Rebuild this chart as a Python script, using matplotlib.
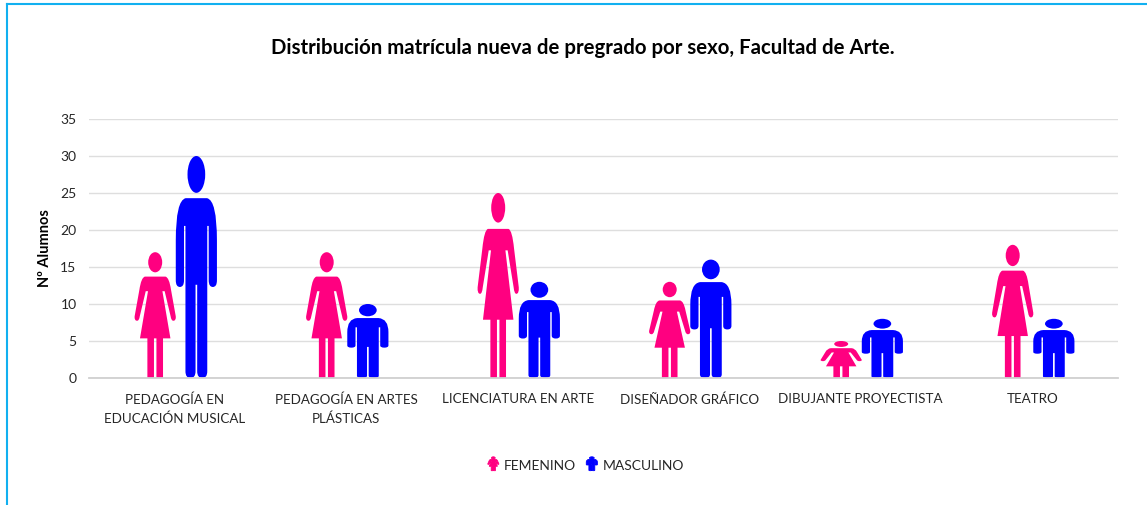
import numpy as np
import matplotlib
matplotlib.use('Agg')
import matplotlib.pyplot as plt
from matplotlib.path import Path
from matplotlib.patches import PathPatch
from matplotlib.lines import Line2D
from matplotlib.legend_handler import HandlerBase
from matplotlib.transforms import Affine2D

categories = ['PEDAGOGÍA EN\nEDUCACIÓN MUSICAL', 'PEDAGOGÍA EN ARTES\nPLÁSTICAS',
              'LICENCIATURA EN ARTE', 'DISEÑADOR GRÁFICO', 'DIBUJANTE PROYECTISTA', 'TEATRO']
femenino = [17, 17, 25, 13, 5, 18]
masculino = [30, 10, 13, 16, 8, 8]
yticks = [0, 5, 10, 15, 20, 25, 30, 35]

PINK = '#ff0080'
BLUE = '#0000ff'
TEXT = '#262626'

plt.rcParams['font.family'] = ['Lato', 'DejaVu Sans']


def head(cx, cy, rx, ry):
    # ellipse in the unit box of the icon
    circle = Path.unit_circle()
    return Path(circle.vertices * [rx, ry] + [cx, cy], circle.codes)


def outline(side):
    # side: left half from top centre to crotch; (x, y, 'c') starts a quadratic curve
    verts, codes = [], []
    curve_end = False
    for i, p in enumerate(side):
        verts.append(p[:2])
        if i == 0:
            codes.append(Path.MOVETO)
        elif len(p) == 3 or curve_end:
            codes.append(Path.CURVE3)
        else:
            codes.append(Path.LINETO)
        curve_end = len(p) == 3
    n = len(verts)
    # right half is the same points mirrored and walked backwards
    for i in range(1, n):
        verts.append((1 - verts[n - 1 - i][0], verts[n - 1 - i][1]))
        codes.append(codes[n - i])
    verts.append(verts[0])
    codes.append(Path.CLOSEPOLY)
    return Path(verts, codes)


male_side = [
    (0.5, 0.81), (0.24, 0.81), (0.0, 0.80, 'c'), (0.0, 0.62), (0.0, 0.44),
    (0.0, 0.41, 'c'), (0.10, 0.41), (0.20, 0.41, 'c'), (0.20, 0.44),
    (0.20, 0.685), (0.235, 0.685), (0.235, 0.03), (0.235, 0.0, 'c'), (0.355, 0.0),
    (0.48, 0.0, 'c'), (0.48, 0.03), (0.48, 0.42), (0.5, 0.42),
]
female_side = [
    (0.5, 0.806), (0.25, 0.806), (0.16, 0.80, 'c'), (0.115, 0.70), (0.0, 0.49),
    (-0.01, 0.455, 'c'), (0.06, 0.455), (0.11, 0.455, 'c'), (0.125, 0.49),
    (0.27, 0.69), (0.325, 0.69), (0.13, 0.315), (0.31, 0.315), (0.31, 0.0),
    (0.47, 0.0), (0.47, 0.315), (0.5, 0.315),
]

male_icon = Path.make_compound_path(head(0.5, 0.917, 0.215, 0.083), outline(male_side))
female_icon = Path.make_compound_path(head(0.5, 0.92, 0.17, 0.08), outline(female_side))

fig = plt.figure(figsize=(11.47, 5.05), dpi=100)
ax = fig.add_axes([89 / 1147, 127 / 505, 1029 / 1147, 259 / 505])

x = np.arange(len(categories))
width = 0.24
shift = 0.006
for xi, f, m in zip(x, femenino, masculino):
    t = Affine2D().scale(width, f).translate(xi - 0.12 - width / 2 + shift, 0) + ax.transData
    ax.add_patch(PathPatch(female_icon, transform=t, fc=PINK, ec='none'))
    t = Affine2D().scale(width, m).translate(xi + 0.12 - width / 2 + shift, 0) + ax.transData
    ax.add_patch(PathPatch(male_icon, transform=t, fc=BLUE, ec='none'))

ax.set_xlim(-0.5, 5.5)
ax.set_ylim(0, 35)
ax.set_yticks(yticks)
ax.set_xticks(x, categories)
ax.grid(axis='y', color='#dedede', lw=1)
ax.set_axisbelow(True)
for s in ['top', 'right', 'left']:
    ax.spines[s].set_visible(False)
ax.spines['bottom'].set_color('#d0d0d0')
ax.spines['bottom'].set_linewidth(1.3)
ax.tick_params(axis='both', length=0, labelcolor=TEXT)
ax.tick_params(axis='x', pad=11, labelsize=9.65)
ax.tick_params(axis='y', pad=9, labelsize=10)
for lab in ax.get_xticklabels():
    lab.set_linespacing(1.6)

fig.text(45 / 1147, 1 - 248 / 505, 'Nº Alumnos', rotation=90, ha='center', va='center',
         fontsize=10.5, fontweight='bold', color='black')
fig.text(583 / 1147, 1 - 48 / 505, 'Distribución matrícula nueva de pregrado por sexo, Facultad de Arte.',
         ha='center', va='center', fontsize=14.65, fontweight='bold', color='black')


class IconHandler(HandlerBase):
    def __init__(self, icon):
        super().__init__()
        self.icon = icon

    def create_artists(self, legend, orig, xd, yd, w, h, fontsize, trans):
        t = Affine2D().scale(8, 10).translate(w - 8 - xd, -yd - 0.5) + trans
        return [PathPatch(self.icon, transform=t, fc=orig.get_color(), ec=orig.get_color(), lw=0.6)]


h1 = Line2D([], [], color=PINK)
h2 = Line2D([], [], color=BLUE)
fig.legend([h1, h2], ['FEMENINO', 'MASCULINO'], loc='center', bbox_to_anchor=(585 / 1147, 1 - 466 / 505),
           ncol=2, frameon=False, fontsize=10, labelcolor=TEXT, handlelength=0.9, handletextpad=0.35,
           columnspacing=0.65, handler_map={h1: IconHandler(female_icon), h2: IconHandler(male_icon)})

# blue frame of the chart, cut off at the right and bottom of the picture
fig.add_artist(Line2D([6.5 / 1147, 6.5 / 1147], [0, 1 - 3.5 / 505], color='#12b0f0', lw=1.5))
fig.add_artist(Line2D([6.5 / 1147, 1], [1 - 3.5 / 505, 1 - 3.5 / 505], color='#12b0f0', lw=1.5))

fig.savefig('out.png', dpi=100)
